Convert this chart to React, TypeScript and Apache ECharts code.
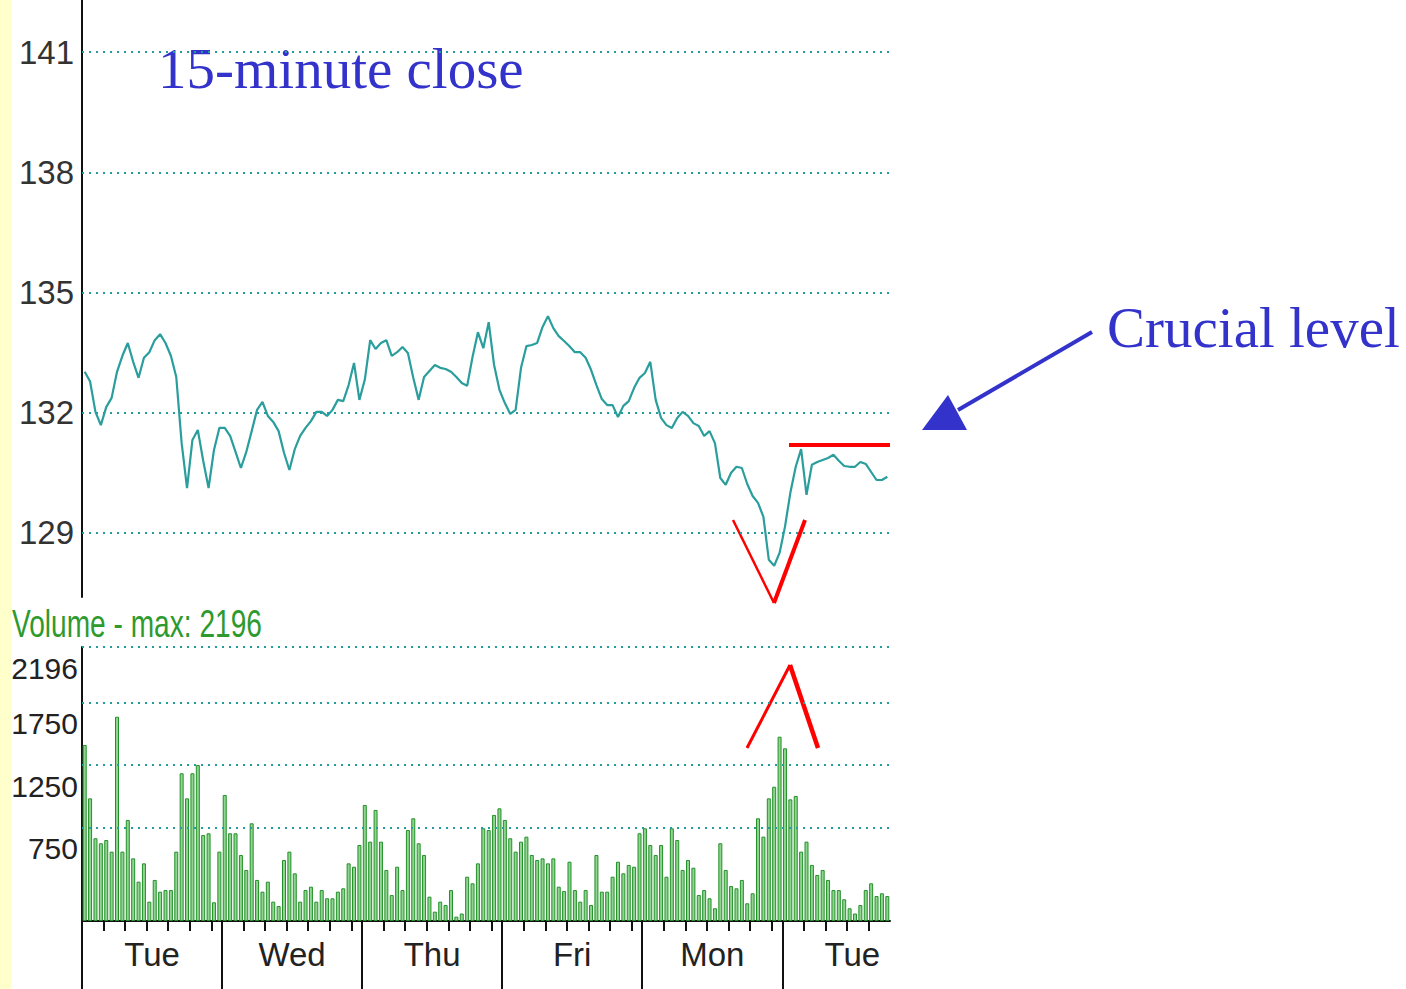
import React, { useEffect, useRef } from 'react';
import * as echarts from 'echarts';

const DAY_NAMES = ['Tue', 'Wed', 'Thu', 'Fri', 'Mon', 'Tue'];
const BARS_PER_DAY = 26;
const PRICE_TICKS = [129, 132, 135, 138, 141];
const VOLUME_TICKS = [750, 1250, 1750, 2196];
const VOLUME_MAX = 2196;

const closePrices = [
  133.02, 132.78, 132.02, 131.69, 132.14, 132.37, 133.02, 133.42, 133.74, 133.27,
  132.87, 133.37, 133.51, 133.81, 133.96, 133.74, 133.42, 132.89, 131.24, 130.12,
  131.32, 131.57, 130.8, 130.12, 131.07, 131.62, 131.62, 131.42, 131.02, 130.62,
  131.02, 131.54, 132.07, 132.27, 131.92, 131.77, 131.54, 131.0, 130.57, 131.09,
  131.42, 131.62, 131.79, 132.02, 132.02, 131.92, 132.07, 132.32, 132.29, 132.69,
  133.24, 132.32, 132.82, 133.81, 133.59, 133.74, 133.81, 133.42, 133.51, 133.64,
  133.49, 132.87, 132.32, 132.89, 133.04, 133.19, 133.12, 133.09, 133.02, 132.89,
  132.74, 132.67, 133.39, 134.01, 133.61, 134.26, 133.19, 132.57, 132.24, 131.97,
  132.07, 133.12, 133.66, 133.69, 133.74, 134.14, 134.41, 134.11, 133.91, 133.79,
  133.66, 133.51, 133.51, 133.37, 133.07, 132.69, 132.34, 132.19, 132.19, 131.89,
  132.17, 132.29, 132.62, 132.87, 132.99, 133.27, 132.32, 131.87, 131.69, 131.62,
  131.87, 132.02, 131.92, 131.74, 131.67, 131.42, 131.54, 131.24, 130.37, 130.2,
  130.5, 130.65, 130.62, 130.22, 129.92, 129.75, 129.4, 128.33, 128.18, 128.5,
  129.15, 130.0, 130.65, 131.09, 129.95, 130.7, 130.77, 130.82, 130.87, 130.95,
  130.8, 130.67, 130.65, 130.65, 130.77, 130.72, 130.52, 130.32, 130.32, 130.4,
];

const volumes = [
  1411, 983, 663, 623, 649, 556, 1637, 556, 810, 502, 315, 462, 155, 329, 235, 248, 248, 556, 1184, 983, 1184, 1250, 689, 703, 150, 556,
  1010, 703, 703, 529, 409, 783, 329, 235, 315, 155, 120, 489, 556, 382, 155, 248, 275, 155, 248, 182, 182, 235, 262, 462, 435, 609,
  930, 636, 890, 636, 409, 208, 435, 248, 729, 823, 623, 529, 195, 75, 155, 128, 248, 35, 60, 355, 302, 462, 743, 729, 850, 903,
  810, 663, 556, 636, 676, 529, 489, 502, 462, 502, 275, 240, 475, 248, 155, 248, 128, 529, 235, 235, 355, 475, 382, 449, 435, 703,
  743, 609, 529, 609, 355, 743, 649, 409, 489, 427, 208, 248, 182, 102, 623, 409, 280, 262, 329, 142, 222, 823, 676, 983, 1076, 1477,
  1384, 975, 1002, 556, 636, 449, 369, 409, 329, 248, 248, 174, 102, 60, 128, 248, 302, 200, 222, 200,
];

const N = closePrices.length;
// one category per 15-minute bar (bars sit in the bands)
const barCategories = closePrices.map((_, i) => DAY_NAMES[Math.floor(i / BARS_PER_DAY)]);
// one category per bar boundary (ticks and day labels sit on the boundaries)
const boundaryCategories = Array.from({ length: N + 1 }, (_, k) =>
  DAY_NAMES[Math.min(DAY_NAMES.length - 1, Math.floor(k / BARS_PER_DAY))]
);

const SANS = "'Liberation Sans', Arial, sans-serif";
const SERIF = "'Liberation Serif', 'Times New Roman', serif";
const GRID_COLOR = '#229c9c';
const AXIS_COLOR = '#111111';
const BLUE = '#3333CC';
const RED = '#FF0000';

const dottedLine = { color: GRID_COLOR, width: 2, type: [2, 5], opacity: 1 };

function buildOption(): any {
  return {
    animation: false,
    backgroundColor: '#ffffff',
    grid: [
      { left: 82, top: 0, width: 808, height: 597, containLabel: false, outerBoundsMode: 'none' },
      { left: 82, top: 647, width: 808, height: 274, containLabel: false, outerBoundsMode: 'none' },
    ],
    xAxis: [
      { gridIndex: 0, type: 'category', data: barCategories, boundaryGap: true, show: false },
      {
        gridIndex: 1,
        type: 'category',
        position: 'bottom',
        data: boundaryCategories,
        boundaryGap: false,
        axisLine: { show: true, lineStyle: { color: AXIS_COLOR, width: 2 } },
        axisTick: {
          show: true,
          length: 10,
          lineStyle: { color: AXIS_COLOR, width: 2 },
          interval: (k: number) => k < N && k % BARS_PER_DAY !== 0 && (k % BARS_PER_DAY) % 4 === 0,
        },
        axisLabel: {
          show: true,
          interval: (k: number) => k % BARS_PER_DAY === 13,
          fontSize: 33,
          fontFamily: SANS,
          color: '#222222',
          margin: 17,
        },
      },
      {
        gridIndex: 1,
        type: 'category',
        position: 'bottom',
        data: boundaryCategories,
        boundaryGap: false,
        offset: 0,
        axisLine: { show: false },
        axisTick: {
          show: true,
          length: 68,
          lineStyle: { color: AXIS_COLOR, width: 2 },
          interval: (k: number) => k < N && k % BARS_PER_DAY === 0,
        },
        axisLabel: { show: false },
      },
      {
        gridIndex: 1,
        type: 'category',
        position: 'bottom',
        data: barCategories,
        boundaryGap: true,
        show: false,
      },
    ],
    yAxis: [
      {
        gridIndex: 0,
        type: 'value',
        min: 127.4,
        max: 142.3,
        splitLine: { show: false },
        axisLine: { show: true, lineStyle: { color: AXIS_COLOR, width: 2 } },
        axisTick: { show: false },
        axisLabel: {
          customValues: PRICE_TICKS,
          formatter: (v: number) => String(v),
          fontSize: 33,
          fontFamily: SANS,
          color: '#333333',
          margin: 8,
        },
      },
      {
        gridIndex: 1,
        type: 'value',
        min: 0,
        max: VOLUME_MAX,
        splitLine: { show: false },
        axisLine: { show: true, lineStyle: { color: AXIS_COLOR, width: 2 } },
        axisTick: { show: false },
        axisLabel: {
          customValues: VOLUME_TICKS,
          formatter: (v: number) => String(v),
          fontSize: 30,
          fontFamily: SANS,
          color: '#222222',
          margin: 4,
          verticalAlign: 'top',
          lineHeight: 42,
        },
      },
    ],
    series: [
      {
        type: 'line',
        xAxisIndex: 0,
        yAxisIndex: 0,
        data: closePrices,
        showSymbol: false,
        symbol: 'none',
        lineStyle: { color: '#2a9d9d', width: 2.2 },
        z: 3,
        markLine: {
          silent: true,
          symbol: ['none', 'none'],
          label: { show: false },
          lineStyle: dottedLine,
          data: PRICE_TICKS.map((v) => ({ yAxis: v })),
          z: 1,
        },
      },
      {
        type: 'bar',
        xAxisIndex: 3,
        yAxisIndex: 1,
        data: volumes,
        barWidth: 4,
        itemStyle: { color: '#8fd48f', borderColor: '#23912a', borderWidth: 1 },
        markLine: {
          silent: true,
          symbol: ['none', 'none'],
          label: { show: false },
          lineStyle: dottedLine,
          data: VOLUME_TICKS.map((v) => ({ yAxis: v })),
        },
      },
    ],
    graphic: [
      { type: 'rect', silent: true, shape: { x: 0, y: 0, width: 11, height: 989 }, style: { fill: '#FFFFCC' } },
      {
        type: 'text',
        x: 158,
        y: 68,
        style: { text: '15-minute close', fontSize: 57, fontFamily: SERIF, fill: BLUE, verticalAlign: 'middle' },
      },
      {
        type: 'text',
        x: 1107,
        y: 327,
        style: { text: 'Crucial level', fontSize: 57, fontFamily: SERIF, fill: BLUE, verticalAlign: 'middle' },
      },
      {
        type: 'text',
        x: 12,
        y: 624,
        scaleX: 0.74,
        style: { text: 'Volume - max: ' + VOLUME_MAX, fontSize: 38, fontFamily: SANS, fill: '#2e9a2e', verticalAlign: 'middle' },
      },
      { type: 'line', shape: { x1: 1092, y1: 332, x2: 958, y2: 410 }, style: { stroke: BLUE, lineWidth: 4 } },
      { type: 'polygon', shape: { points: [[922, 430], [967, 430], [948, 395]] }, style: { fill: BLUE } },
      { type: 'line', shape: { x1: 789, y1: 445, x2: 890, y2: 445 }, style: { stroke: RED, lineWidth: 4 } },
      { type: 'line', shape: { x1: 733, y1: 520, x2: 774, y2: 603 }, style: { stroke: RED, lineWidth: 2.5 } },
      { type: 'line', shape: { x1: 774, y1: 603, x2: 805, y2: 520 }, style: { stroke: RED, lineWidth: 4 } },
      { type: 'line', shape: { x1: 747, y1: 748, x2: 790, y2: 665 }, style: { stroke: RED, lineWidth: 3 } },
      { type: 'line', shape: { x1: 790, y1: 665, x2: 818, y2: 748 }, style: { stroke: RED, lineWidth: 4.5 } },
    ],
  };
}

export default function App() {
  const ref = useRef<HTMLDivElement>(null);
  useEffect(() => {
    if (!ref.current) return;
    const chart = echarts.init(ref.current, null, { renderer: 'svg' });
    chart.setOption(buildOption());
    return () => chart.dispose();
  }, []);
  return (
    <div
      ref={ref}
      style={{ position: 'absolute', left: 0, top: 0, width: 1406, height: 989, background: '#ffffff' }}
    />
  );
}
